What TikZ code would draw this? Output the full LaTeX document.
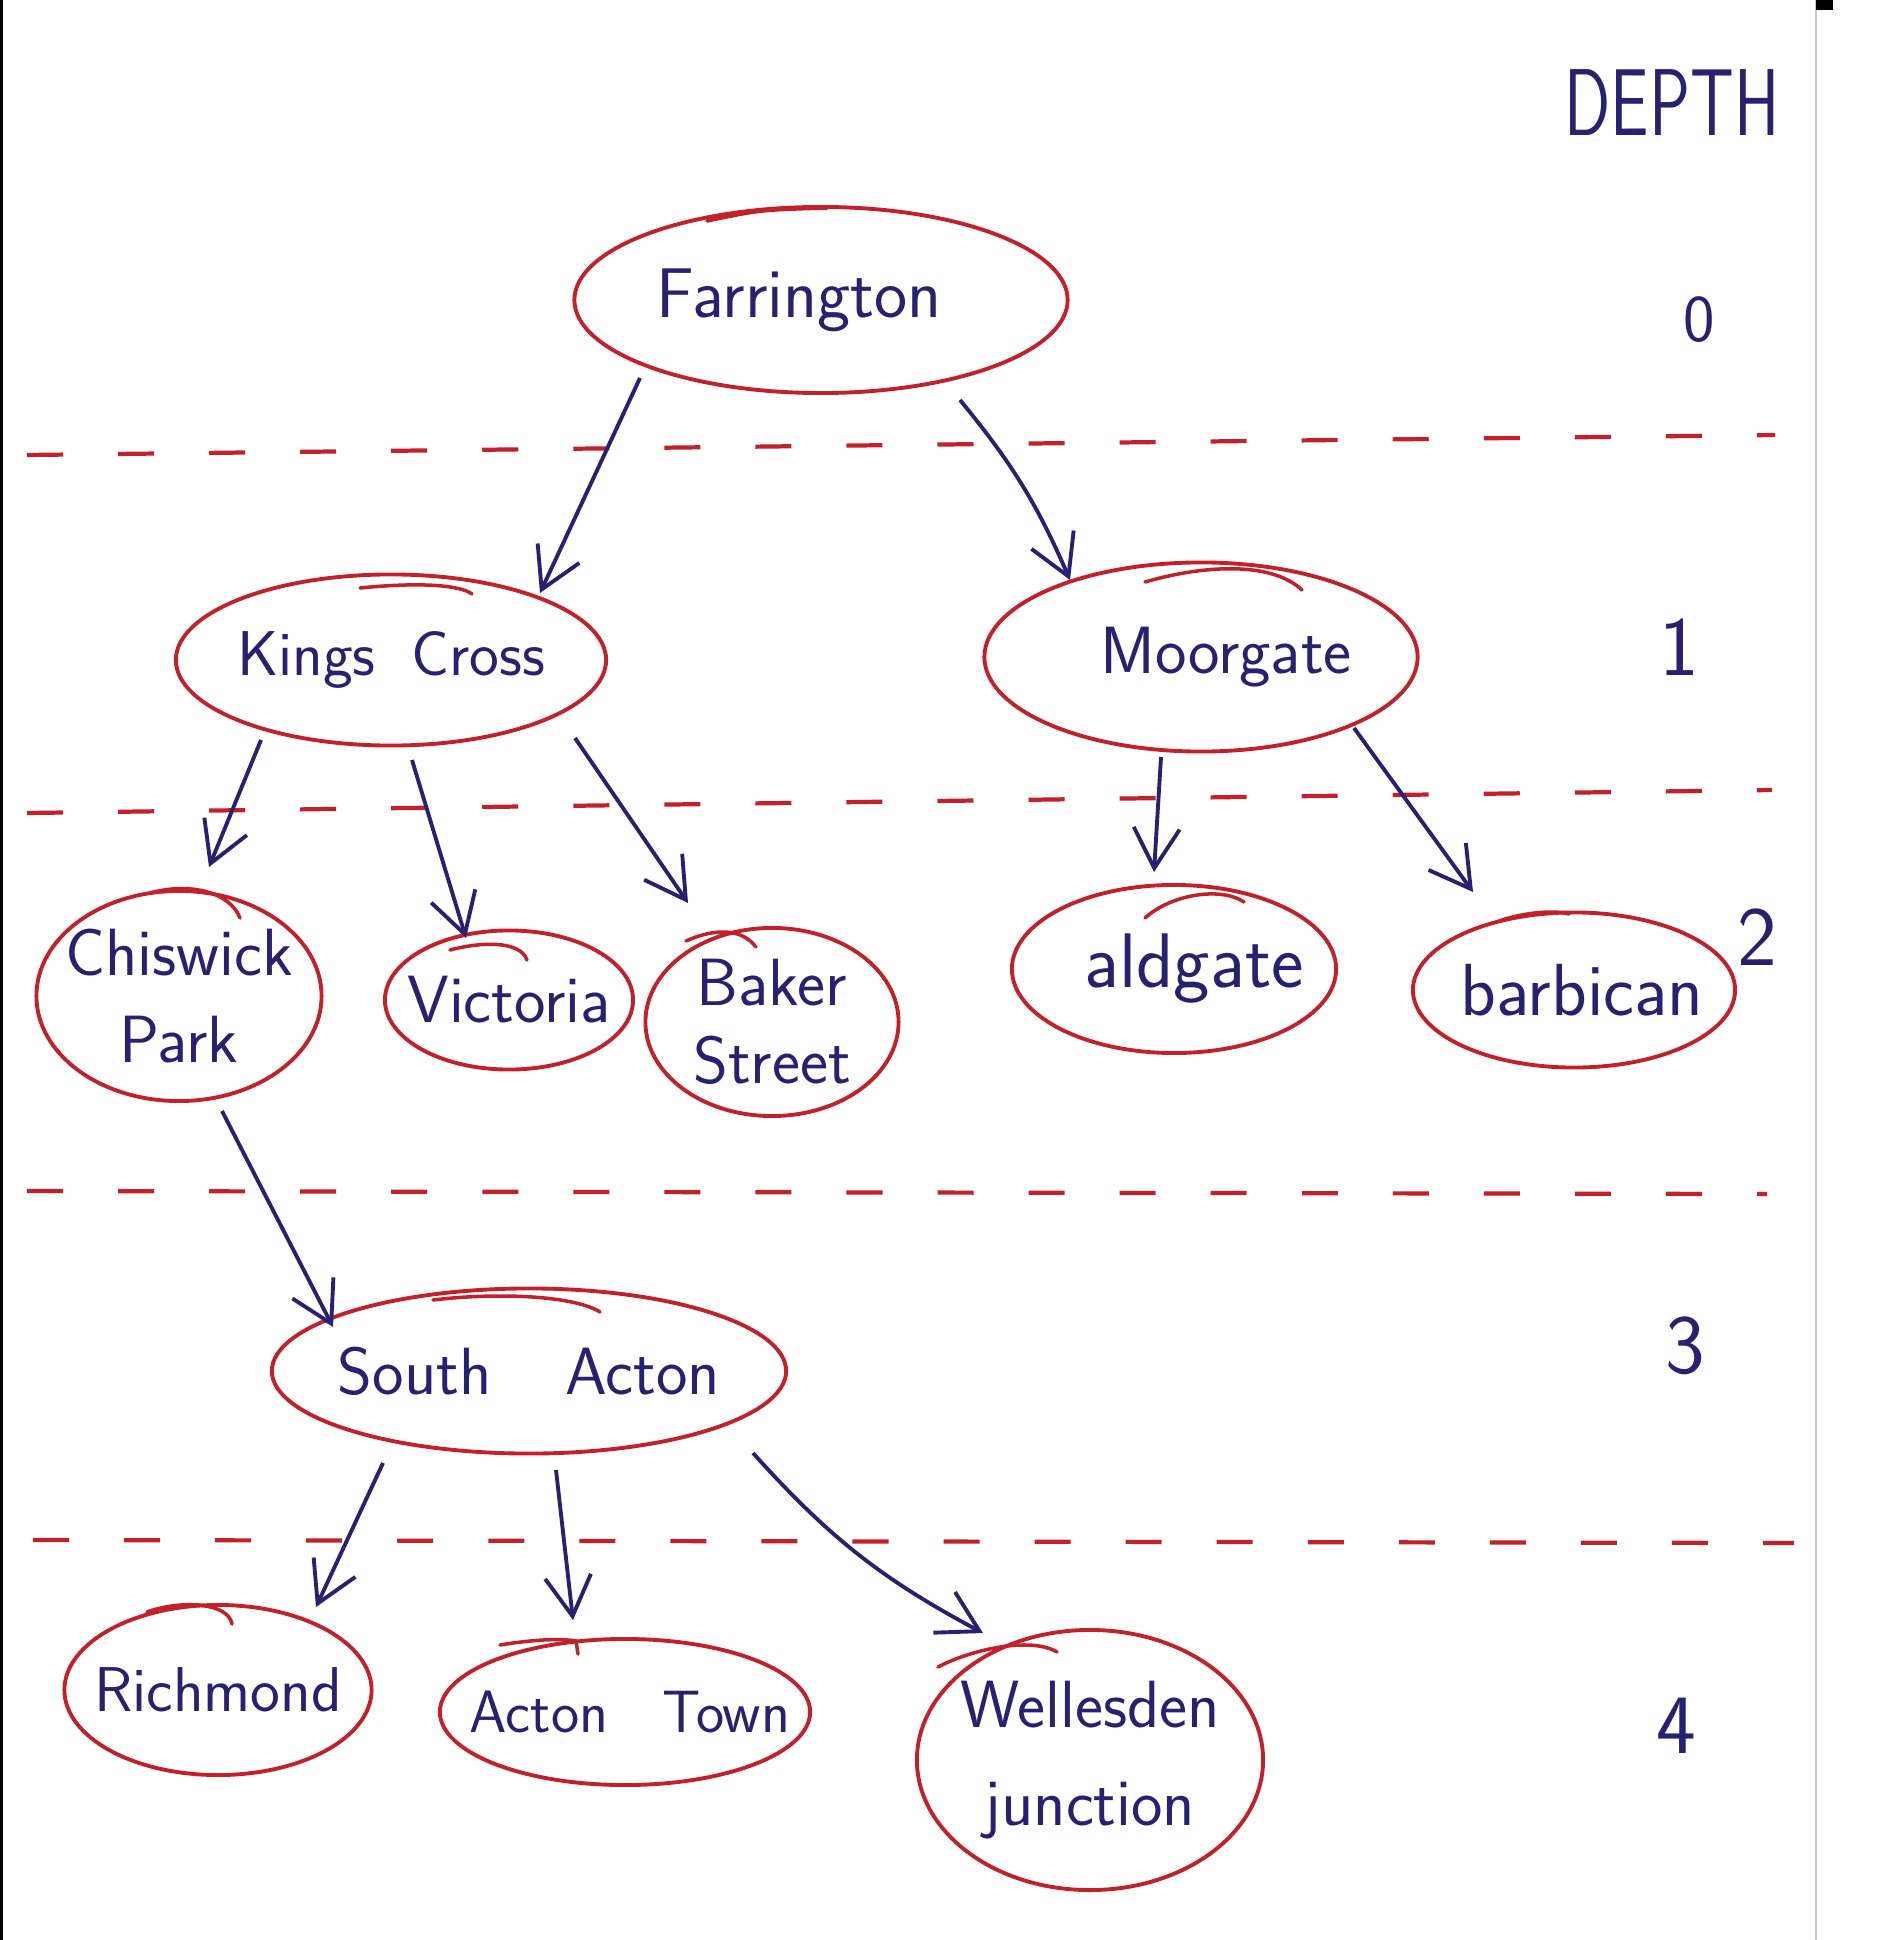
\documentclass[tikz,border=0pt]{standalone}
\usetikzlibrary{arrows.meta,shapes.geometric,calc}
\definecolor{pen}{RGB}{40,32,112}
\definecolor{ink}{RGB}{196,32,42}
\begin{document}
\begin{tikzpicture}[x=0.01cm,y=-0.01cm,
  stn/.style={ellipse, draw=ink, line width=1.1pt, inner sep=0pt},
  txt/.style={text=pen, font=\sffamily\fontsize{19}{24}\selectfont, align=center, inner sep=0pt},
  fs/.style={font=\sffamily\fontsize{#1}{24}\selectfont},
  arr/.style={draw=pen, line width=1.1pt, -{Straight Barb[length=4mm,width=4.6mm,line width=1.1pt]}},
  lvl/.style={draw=ink, line width=1.2pt, dash pattern=on 0.36cm off 0.55cm},
  tail/.style={draw=ink, line width=1pt, line cap=round},
  dlab/.style={text=pen, inner sep=0pt, font=\sffamily\fontsize{24}{28}\selectfont}]
\useasboundingbox (0,0) rectangle (1904,1940);
\fill[white] (0,0) rectangle (1904,1940);
% page edges
\draw[black, line width=0.9pt] (1.5,0) -- (1.5,1940);
\draw[gray!40, line width=0.8pt] (1816,0) -- (1816,1940);
\fill[black] (1816,0) rectangle (1833,10);

% level separators
\draw[lvl] (27,455) -- (1775,435);
\draw[lvl] (27,813) -- (1772,790);
\draw[lvl] (27,1191) -- (1767,1194);
\draw[lvl] (33,1540) -- (1794,1543);

% stations
\node[stn, minimum width=4.93cm, minimum height=1.86cm, label={[txt, fs=20, xshift=-0.22cm]center:Farrington}] (far) at (821,300) {};
\node[stn, minimum width=4.30cm, minimum height=1.71cm, label={[txt, fs=18]center:{Kings\hspace{0.25em} Cross}}] (kc) at (391,660) {};
\node[stn, minimum width=4.33cm, minimum height=1.89cm, label={[txt, xshift=0.25cm]center:Moorgate}] (moo) at (1201,657) {};
\node[stn, minimum width=2.85cm, minimum height=2.10cm, label={[txt, font=\sffamily\fontsize{19}{25}\selectfont]center:{Chiswick\\Park}}] (cp) at (179,996) {};
\node[stn, minimum width=2.48cm, minimum height=1.39cm, label={[txt]center:Victoria}] (vic) at (509,1000) {};
\node[stn, minimum width=2.53cm, minimum height=1.88cm, label={[txt, font=\sffamily\fontsize{19}{22}\selectfont]center:{Baker\\Street}}] (bak) at (772,1022) {};
\node[stn, minimum width=3.24cm, minimum height=1.68cm, label={[txt, fs=22, xshift=0.2cm]center:aldgate}] (ald) at (1174,969) {};
\node[stn, minimum width=3.22cm, minimum height=1.55cm, label={[txt, fs=21, xshift=0.08cm]center:barbican}] (bar) at (1574,990) {};
\node[stn, minimum width=5.14cm, minimum height=1.65cm, label={[txt]center:{South\hspace{0.8em} Acton}}] (sa) at (529,1371) {};
\node[stn, minimum width=3.07cm, minimum height=1.70cm, label={[txt, fs=18]center:Richmond}] (ric) at (218,1690) {};
\node[stn, minimum width=3.70cm, minimum height=1.46cm, label={[txt, fs=17, xshift=0.05cm]center:{Acton\hspace{0.6em} Town}}] (at) at (625,1712) {};
\node[stn, minimum width=3.46cm, minimum height=2.60cm, label={[txt, font=\sffamily\fontsize{19}{28}\selectfont]center:{Wellesden\\junction}}] (wel) at (1090,1760) {};

% pen-stroke overlaps at the tops of the rings
\draw[tail] (707,221) .. controls (760,210) .. (827,208);
\draw[tail] (360,588) .. controls (420,582) and (460,585) .. (472,594);
\draw[tail] (1145,582) .. controls (1200,566) and (1270,560) .. (1302,590);
\draw[tail] (150,893) .. controls (190,882) and (230,892) .. (240,918);
\draw[tail] (450,950) .. controls (480,942) and (520,940) .. (527,960);
\draw[tail] (686,941) .. controls (710,930) and (740,926) .. (756,947);
\draw[tail] (1145,918) .. controls (1170,895) and (1220,886) .. (1244,902);
\draw[tail] (1499,921) .. controls (1525,912) and (1555,910) .. (1569,914);
\draw[tail] (433,1300) .. controls (500,1292) and (575,1296) .. (600,1312);
\draw[tail] (147,1612) .. controls (180,1600) and (228,1602) .. (232,1624);
\draw[tail] (500,1645) .. controls (530,1640) and (560,1638) .. (576,1641) -- (578,1654);
\draw[tail] (938,1667) .. controls (970,1650) and (1030,1636) .. (1057,1652);

% depth labels
\node[dlab, font=\sffamily\fontsize{27}{30}\selectfont] (depth) at (1672,103) {\scalebox{0.72}[1]{DEPTH}};
\node[dlab, font=\sffamily\fontsize{19}{20}\selectfont] (d0) at (1699,320) {0};
\node[dlab] (d1) at (1679,647) {1};
\node[dlab] (d2) at (1757,937) {2};
\node[dlab] (d3) at (1685,1346) {3};
\node[dlab] (d4) at (1676,1726) {4};

% connectors
\draw[arr] ([shift={(-181,78)}]far.center) -- ([shift={(149,-67)}]kc.center);
\draw[arr] ([shift={(139,100)}]far.center) to[bend left=8] ([shift={(-131,-77)}]moo.center);
\draw[arr] ([shift={(-130,80)}]kc.center) -- ([shift={(30,-129)}]cp.center);
\draw[arr] ([shift={(21,100)}]kc.center) -- ([shift={(-43,-62)}]vic.center);
\draw[arr] ([shift={(184,78)}]kc.center) -- ([shift={(-84,-119)}]bak.center);
\draw[arr] ([shift={(-40,100)}]moo.center) -- ([shift={(-20,-97)}]ald.center);
\draw[arr] ([shift={(153,71)}]moo.center) -- ([shift={(-101,-98)}]bar.center);
\draw[arr] ([shift={(43,115)}]cp.center) -- ([shift={(-196,-44)}]sa.center);
\draw[arr] ([shift={(-146,92)}]sa.center) -- ([shift={(98,-83)}]ric.center);
\draw[arr] ([shift={(27,99)}]sa.center) -- ([shift={(-52,-92)}]at.center);
\draw[arr] ([shift={(224,82)}]sa.center) to[bend right=10] ([shift={(-107,-127)}]wel.center);
\end{tikzpicture}
\end{document}
